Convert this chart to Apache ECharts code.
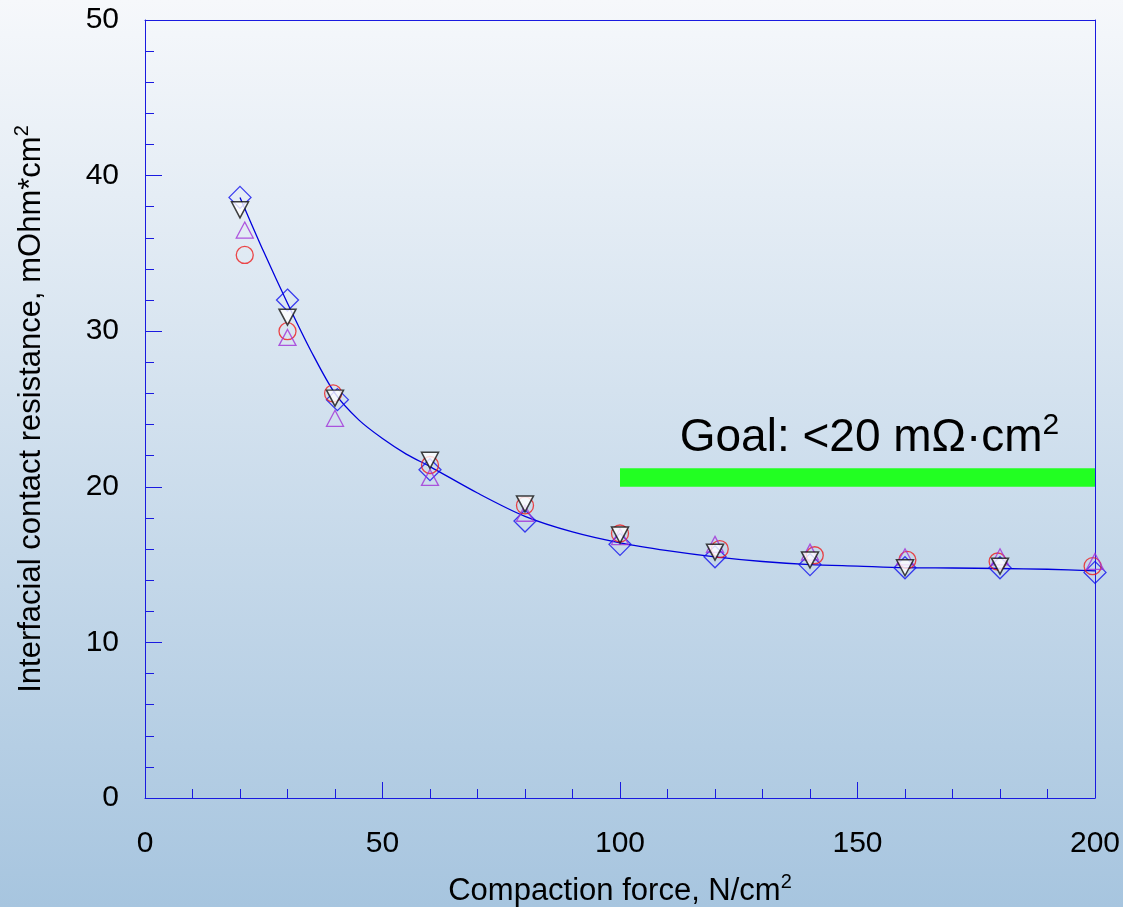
<!DOCTYPE html>
<html>
<head>
<meta charset="utf-8">
<script src="https://cdn.jsdelivr.net/npm/echarts@6/dist/echarts.min.js"></script>
<style>
html,body{margin:0;padding:0;}
#c{width:1123px;height:907px;}
</style>
</head>
<body>
<div id="c"></div>
<script>
// ---- data ----
const diamondX = [20, 30, 40.5, 60, 80, 100, 120, 140, 160, 180, 200];
const diamondY = [38.6, 32.0, 25.6, 21.1, 17.8, 16.3, 15.5, 15.0, 14.8, 14.8, 14.5];
const downTriX = [20, 30, 40, 60, 80, 100, 120, 140, 160, 180];
const downTriY = [37.8, 30.9, 25.7, 21.7, 18.9, 16.9, 15.8, 15.3, 14.8, 14.9];
const upTriX = [21, 30, 40, 60, 80, 100, 120, 140, 160, 180, 200];
const upTriY = [36.5, 29.6, 24.4, 20.6, 18.3, 16.8, 16.3, 15.8, 15.5, 15.5, 15.2];
const circleX = [21, 30, 39.6, 60, 80, 100, 121, 141, 160.5, 179.5, 199.5];
const circleY = [34.9, 30.0, 26.0, 21.4, 18.8, 17.0, 16.0, 15.6, 15.3, 15.2, 14.9];
const fitX = [20, 25, 30, 35, 40, 45, 50, 55, 60, 70, 80, 90, 100, 110, 120, 130, 140, 150, 160, 170, 180, 190, 200];
const fitY = [38.6, 35.1, 31.8, 28.7, 26.0, 24.3, 23.1, 22.1, 21.3, 19.6, 18.1, 17.1, 16.4, 15.9, 15.5, 15.2, 15.0, 14.9, 14.8, 14.78, 14.75, 14.7, 14.6];
const goalX = [100, 200];
const goalY = [20, 21.2];
const goalText = 'Goal: <20 mΩ·cm';
const xTicks = {min: 0, max: 200, interval: 50};
const yTicks = {min: 0, max: 50, interval: 10};
const xName = 'Compaction force, N/cm';
const yName = 'Interfacial contact resistance, mOhm*cm';

const zip = (xs, ys) => xs.map((x, i) => [x, ys[i]]);
const FONT = 'Liberation Sans, Arial, sans-serif';
const AXIS = '#1a1ae0';
const sup = (fs, raise) => ({fontSize: fs, fontFamily: FONT, color: '#000', padding: [0, 0, raise, 0], verticalAlign: 'bottom'});

const chart = echarts.init(document.getElementById('c'));
chart.setOption({
  backgroundColor: new echarts.graphic.LinearGradient(0, 0, 0, 1, [
    {offset: 0, color: '#f6f8fb'},
    {offset: 1, color: '#a7c5df'}
  ]),
  animation: false,
  grid: {left: 145, right: 28, top: 20, bottom: 109, containLabel: false, outerBoundsMode: 'none'},
  xAxis: [{
    type: 'value', min: xTicks.min, max: xTicks.max, interval: xTicks.interval,
    name: xName + '{s|2}', nameLocation: 'middle', nameGap: 74,
    nameTextStyle: {fontFamily: FONT, fontSize: 31, color: '#000', rich: {s: sup(20, 18)}},
    axisLine: {show: true, lineStyle: {color: AXIS, width: 1}},
    axisTick: {show: true, inside: true, length: 16, lineStyle: {color: AXIS}},
    minorTick: {show: true, splitNumber: 5, length: 9, lineStyle: {color: AXIS}},
    axisLabel: {fontFamily: FONT, fontSize: 30, color: '#000', margin: 31},
    splitLine: {show: false}
  }, {
    type: 'value', position: 'top', min: xTicks.min, max: xTicks.max,
    axisLine: {show: true, onZero: false, lineStyle: {color: AXIS, width: 1}},
    axisTick: {show: false}, axisLabel: {show: false}, splitLine: {show: false}
  }],
  yAxis: [{
    type: 'value', min: yTicks.min, max: yTicks.max, interval: yTicks.interval,
    name: yName + '{s|2}', nameLocation: 'middle', nameGap: 95, nameRotate: 90,
    nameTextStyle: {fontFamily: FONT, fontSize: 31, color: '#000', rich: {s: sup(20, 18)}},
    axisLine: {show: true, lineStyle: {color: AXIS, width: 1}},
    axisTick: {show: true, inside: true, length: 17, lineStyle: {color: AXIS}},
    minorTick: {show: true, splitNumber: 5, length: 9, lineStyle: {color: AXIS}},
    axisLabel: {fontFamily: FONT, fontSize: 30, color: '#000', margin: 26},
    splitLine: {show: false}
  }, {
    type: 'value', position: 'right', min: yTicks.min, max: yTicks.max,
    axisLine: {show: true, onZero: false, lineStyle: {color: AXIS, width: 1}},
    axisTick: {show: false}, axisLabel: {show: false}, splitLine: {show: false}
  }],
  series: [
    {
      type: 'line', data: zip(fitX, fitY), smooth: 0.3, symbol: 'none',
      lineStyle: {color: '#0000dd', width: 1.3}, z: 2,
      markArea: {
        silent: true,
        itemStyle: {color: '#22ff22'},
        label: {show: true, position: 'top', distance: 3, offset: [12, 0],
          formatter: goalText + '{s|2}',
          fontFamily: FONT, fontSize: 46, color: '#000',
          rich: {s: sup(30, 24)}},
        data: [[{coord: [goalX[0], goalY[0]]}, {coord: [goalX[1], goalY[1]]}]]
      }
    },
    {
      type: 'scatter', data: zip(diamondX, diamondY), symbol: 'diamond', symbolSize: [22, 22],
      itemStyle: {color: 'rgba(0,0,0,0)', borderColor: '#1010ee', borderWidth: 1.3}, z: 3
    },
    {
      type: 'scatter', data: zip(circleX, circleY), symbol: 'circle', symbolSize: 17,
      itemStyle: {color: 'rgba(0,0,0,0)', borderColor: '#ee1c1c', borderWidth: 1.3}, z: 4
    },
    {
      type: 'scatter', data: zip(upTriX, upTriY), symbol: 'triangle', symbolSize: [17, 16],
      itemStyle: {color: 'rgba(0,0,0,0)', borderColor: '#a030d8', borderWidth: 1.3}, z: 5
    },
    {
      type: 'scatter', data: zip(downTriX, downTriY), symbol: 'triangle', symbolRotate: 180, symbolSize: [17, 16],
      itemStyle: {color: '#ffffff', borderColor: '#111111', borderWidth: 1.5}, z: 6
    }
  ]
});
</script>
</body>
</html>
